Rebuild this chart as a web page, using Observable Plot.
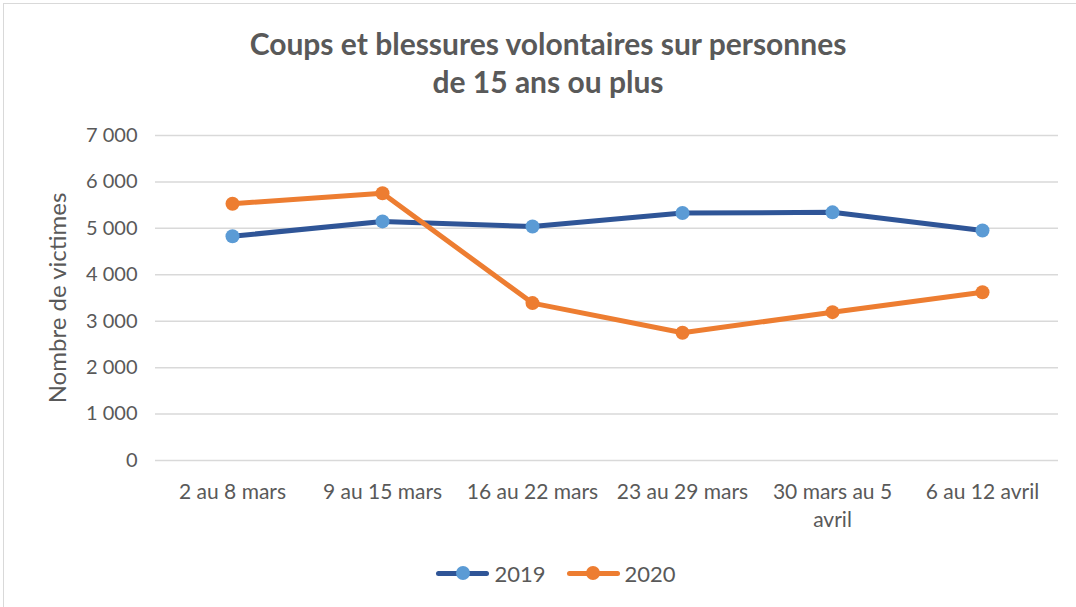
<!DOCTYPE html>
<html><head><meta charset="utf-8">
<script src="https://cdn.jsdelivr.net/npm/d3@7"></script>
<script src="https://cdn.jsdelivr.net/npm/@observablehq/plot@0.6"></script>
<style>
body{margin:0;background:#fff;font-family:Lato,"Open Sans",sans-serif;}
#wrap{position:relative;width:1076px;height:607px;overflow:hidden;}
#frame{position:absolute;left:3px;top:3px;width:1090px;height:620px;border:1px solid #d9d9d9;box-sizing:border-box;}
#title{position:absolute;left:0;top:24px;width:1096px;text-align:center;font-weight:bold;font-size:30px;line-height:38px;color:#595959;}
#chart{position:absolute;left:0;top:110px;}
#legend{position:absolute;left:8px;top:560px;width:1096px;display:flex;justify-content:center;gap:21px;font-size:22px;color:#595959;}
.item{display:flex;align-items:center;gap:5px;height:26px;}
.sw{position:relative;width:53px;height:14px;}
.sw .ln{position:absolute;left:0;top:4.5px;width:53px;height:5px;border-radius:2.5px;}
.sw .dt{position:absolute;left:19.5px;top:0;width:14px;height:14px;border-radius:50%;}
</style></head>
<body>
<div id="wrap">
<div id="frame"></div>
<div id="title">Coups et blessures volontaires sur personnes<br>de 15 ans ou plus</div>
<div id="chart"></div>
<div id="legend"></div>
</div>
<script>
const categories = ["2 au 8 mars","9 au 15 mars","16 au 22 mars","23 au 29 mars","30 mars au 5 avril","6 au 12 avril"];
const tickLabels = ["2 au 8 mars","9 au 15 mars","16 au 22 mars","23 au 29 mars","30 mars au 5\navril","6 au 12 avril"];
const values2019 = [4830,5150,5040,5330,5345,4955];
const values2020 = [5530,5755,3390,2750,3195,3625];
const yTicks = [0,1000,2000,3000,4000,5000,6000,7000];
const seriesNames = ["2019","2020"];
const lineColors = ["#2F5597","#ED7D31"];
const dotColors = ["#5B9BD5","#ED7D31"];
const yLabel = "Nombre de victimes";

const rows2019 = categories.map((c,i)=>({cat:c,value:values2019[i]}));
const rows2020 = categories.map((c,i)=>({cat:c,value:values2020[i]}));
const fmt = d => d3.format(",")(d).replace(/,/g," ");

const chart = Plot.plot({
  width:1076, height:440,
  marginLeft:155, marginRight:18, marginTop:25, marginBottom:90,
  style:{fontFamily:"Lato, 'Open Sans', sans-serif", color:"#595959", background:"transparent"},
  x:{type:"point", domain:categories, padding:0.5, axis:null},
  y:{domain:[0,7000], axis:null},
  marks:[
    Plot.gridY(yTicks,{stroke:"#d9d9d9", strokeOpacity:1, strokeWidth:1.5}),
    Plot.axisY(yTicks,{tickSize:0, tickPadding:18, tickFormat:fmt, fontSize:20, fill:"#595959", label:null}),
    Plot.axisX(categories,{tickSize:0, tickPadding:19, tickFormat:d=>tickLabels[categories.indexOf(d)], fontSize:21, lineHeight:1.33, fill:"#595959", label:null}),
    Plot.text([yLabel],{frameAnchor:"left", text:d=>d, rotate:-90, textAnchor:"middle", dx:-97, fontSize:24, fill:"#595959"}),
    Plot.line(rows2019,{x:"cat", y:"value", stroke:lineColors[0], strokeWidth:5, curve:"linear"}),
    Plot.line(rows2020,{x:"cat", y:"value", stroke:lineColors[1], strokeWidth:5, curve:"linear"}),
    Plot.dot(rows2019,{x:"cat", y:"value", fill:dotColors[0], r:7}),
    Plot.dot(rows2020,{x:"cat", y:"value", fill:dotColors[1], r:7})
  ]
});
document.getElementById("chart").appendChild(chart);

const legend = document.getElementById("legend");
seriesNames.forEach((name,i)=>{
  const it = document.createElement("div"); it.className="item";
  it.innerHTML = `<div class="sw"><div class="ln" style="background:${lineColors[i]}"></div><div class="dt" style="background:${dotColors[i]}"></div></div><span>${name}</span>`;
  legend.appendChild(it);
});
</script>
</body></html>
